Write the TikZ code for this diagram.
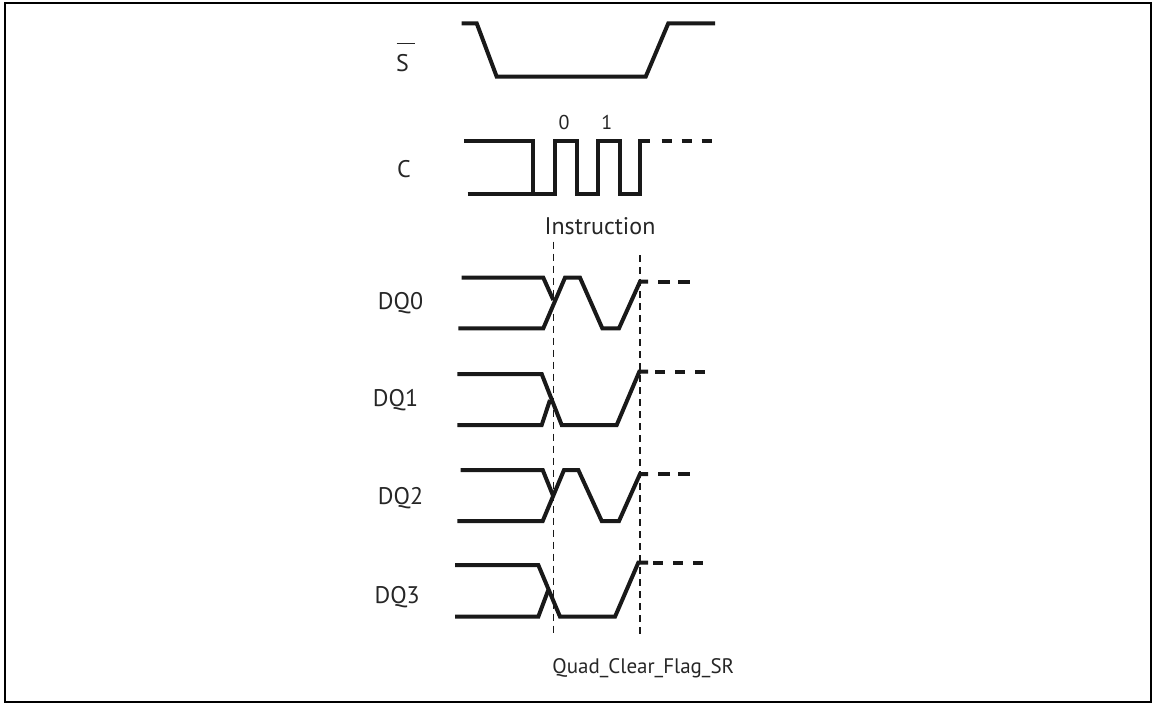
\documentclass[tikz,border=0pt]{standalone}
\usepackage{fontspec}
\setmainfont{PT Sans}
\begin{document}
\begin{tikzpicture}[x=1pt,y=-1pt,
  sig/.style={line width=4pt,line join=miter,color=black!90},
  tail/.style={line width=4pt,dash pattern=on 10pt off 10pt,color=black!90},
  guide/.style={line width=1.5pt,dash pattern=on 7pt off 5pt,color=black!90},
  lab/.style={font=\fontsize{24}{28}\selectfont,text=black!85,inner sep=0pt},
  small/.style={font=\fontsize{20}{24}\selectfont,text=black!85,inner sep=0pt},
  fname/.style={font=\fontsize{21}{25}\selectfont,text=black!85,inner sep=0pt}]
\useasboundingbox (0,0) rectangle (1153,704);
\draw[line width=2pt] (5,3) rectangle (1151,702);

% labels
\node[lab] (lS) at (402.5,63.3) {S};
\draw[line width=1.6pt,color=black!85] (396.7,43.3) -- (415,43.3);
\node[lab] (lC) at (404,169) {C};
\node[lab,anchor=east] (lD0) at (423.3,303) {DQ0};
\node[lab,anchor=east] (lD1) at (418.3,400) {DQ1};
\node[lab,anchor=east] (lD2) at (423.3,498) {DQ2};
\node[lab,anchor=east] (lD3) at (420,597) {DQ3};
\node[small] (b0) at (564,122) {0};
\node[small] (b1) at (606.7,122) {1};
\node[lab] (instr) at (600,226) {Instruction};
\node[fname] (fn) at (643.3,668.3) {Quad\_Clear\_Flag\_SR};

% guides
\draw[guide] (553.3,241.7) -- (553.3,636.7);
\draw[guide] (640,255) -- (640,636.7);

% S#
\draw[sig] (461.7,23.3) -- (476.7,23.3) -- (496.7,76.7) -- (645.7,76.7) -- (668.3,23.3) -- (715,23.3);

% C
\draw[sig] (464,141) -- (532.7,141) -- (532.7,194.3);
\draw[sig] (467.7,194.3) -- (555,194.3) -- (555,141) -- (576.7,141) -- (576.7,194.3)
  -- (598.3,194.3) -- (598.3,141) -- (620,141) -- (620,194.3) -- (640,194.3)
  -- (640,141) -- (650,141);
\draw[tail] (661.7,141) -- (713,141);

% DQ0
\draw[sig] (461.7,277.7) -- (543.3,277.7) -- (553.3,300);
\draw[sig] (458.3,328.3) -- (543.3,328.3) -- (565,277.7) -- (580,277.7) -- (602.3,328.3)
  -- (619,328.3) -- (640,281.7) -- (648,281.7);
\draw[tail,dash pattern=on 12pt off 8pt] (658,281.7) -- (690,281.7);

% DQ1
\draw[sig] (457.3,374) -- (541.7,374) -- (561.7,425) -- (616.7,425) -- (639.3,371.7) -- (648,371.7);
\draw[sig] (457.3,425) -- (541.7,425) -- (550,400);
\draw[tail] (655,371.7) -- (705,371.7);

% DQ2
\draw[sig] (460.7,470) -- (542.7,470) -- (553,495.5);
\draw[sig] (457.3,521) -- (542.7,521) -- (564,470) -- (578.3,470) -- (601.7,521)
  -- (619,521) -- (640,474) -- (648,474);
\draw[tail,dash pattern=on 12pt off 8pt] (658,474) -- (690,474);

% DQ3
\draw[sig] (455,565) -- (538.3,565) -- (560,616.7) -- (615,616.7) -- (638.3,562.7) -- (648,562.7);
\draw[sig] (455,616.7) -- (538.3,616.7) -- (548.3,590);
\draw[tail] (653,562.7) -- (703,562.7);
\end{tikzpicture}
\end{document}
